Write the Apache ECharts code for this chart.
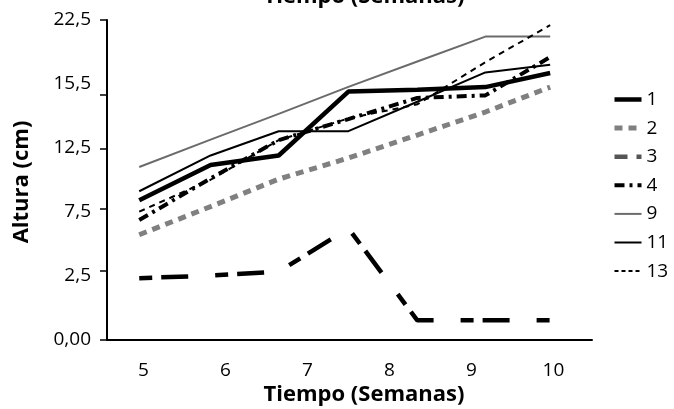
<!DOCTYPE html>
<html>
<head>
<meta charset="utf-8">
<script src="https://cdn.jsdelivr.net/npm/echarts@6/dist/echarts.min.js"></script>
<style>html,body{margin:0;padding:0;background:#fff}#c{width:674px;height:409px}</style>
</head>
<body>
<div id="c"></div>
<script>
// Data (x = position in weeks; y in chart units 0..25)
const weekX = [4.95, 5.82, 6.65, 7.5, 8.34, 9.17, 9.96];
const xTickValues = [5, 6, 7, 8, 9, 10];
const yTickLabels = ['0,00', '2,5', '7,5', '12,5', '15,5', '22,5'];
const yLabelValues = [0, 5, 10, 15, 20, 25];
const yTickValues = [0, 5.35, 10.2, 14.95, 19.15, 25];
const seriesNames = ['1', '2', '3', '4', '9', '11', '13'];
const s1 = [10.9, 13.65, 14.4, 19.4, 19.55, 19.75, 20.85];
const s2 = [8.2, 10.4, 12.55, 14.2, 16.0, 17.8, 19.75];
const s3 = [4.8, 5.0, 5.3, 8.7, 1.5, 1.5, 1.5];
const s4 = [9.35, 12.6, 15.6, 17.25, 18.9, 19.1, 22.1];
const s9 = [13.5, 15.64, 17.65, 19.77, 21.75, 23.7, 23.7];
const s11 = [11.6, 14.4, 16.3, 16.3, 18.6, 20.9, 21.5];
const s13 = [10.0, 12.5, 15.6, 17.3, 18.4, 21.7, 24.6];

const values = [s1, s2, s3, s4, s9, s11, s13];
const styles = [
  {color: '#000', width: 4.5, type: 'solid'},
  {color: '#808080', width: 5, type: [8, 6]},
  {color: '#000', width: 4.5, type: [13, 9, 27, 27]},
  {color: '#000', width: 4, type: [10, 5, 3, 5]},
  {color: '#6b6b6b', width: 2, type: 'solid'},
  {color: '#000', width: 2, type: 'solid'},
  {color: '#000', width: 2, type: [4, 3]}
];
const legendColors = ['#000', '#808080', '#555', '#000', '#6b6b6b', '#000', '#000'];
const FONT = '"Open Sans", "Liberation Sans", sans-serif';

const series = seriesNames.map((n, i) => ({
  name: n,
  type: 'line',
  symbol: 'none',
  animation: false,
  color: styles[i].color,
  lineStyle: {color: styles[i].color, width: styles[i].width, type: i === 6 ? [6, 5] : styles[i].type, cap: 'butt'},
  data: weekX.map((x, k) => [x, values[i][k]])
}));

const chart = echarts.init(document.getElementById('c'), null, {renderer: 'canvas'});
chart.setOption({
  animation: false,
  backgroundColor: '#fff',
  grid: {left: 107, right: 82, top: 20, bottom: 69.5, containLabel: false},
  xAxis: {
    type: 'value', min: 4.557, max: 10.47,
    axisLine: {show: true, lineStyle: {color: '#000', width: 2}},
    axisTick: {show: false},
    splitLine: {show: false},
    axisLabel: {customValues: xTickValues, margin: 22, color: '#000', fontSize: 19, fontFamily: FONT}
  },
  yAxis: {
    type: 'value', min: 0, max: 25,
    axisLine: {show: true, lineStyle: {color: '#000', width: 2}},
    axisTick: {show: true, customValues: yTickValues, length: 7, lineStyle: {color: '#000', width: 1.5}},
    splitLine: {show: false},
    axisLabel: {
      customValues: yLabelValues, margin: 16, color: '#000', fontSize: 19, fontFamily: FONT,
      formatter: v => yTickLabels[yLabelValues.indexOf(Math.round(v))]
    }
  },
  legend: {
    orient: 'vertical', left: 612, top: 90, padding: 0,
    itemWidth: 27, itemHeight: 14, itemGap: 9.6,
    itemStyle: {opacity: 0},
    textStyle: {fontSize: 19, fontFamily: FONT, color: '#000'},
    data: seriesNames.map((n, i) => ({
      name: n,
      lineStyle: {color: legendColors[i], width: styles[i].width, type: styles[i].type, cap: 'butt'}
    }))
  },
  graphic: [
    {type: 'text', x: 364, y: -3, style: {text: 'Tiempo (Semanas)', font: 'bold 22px ' + FONT, textAlign: 'center', textVerticalAlign: 'middle', align: 'center', verticalAlign: 'middle', fill: '#000'}},
    {type: 'text', x: 364, y: 395, style: {text: 'Tiempo (Semanas)', font: 'bold 22px ' + FONT, textAlign: 'center', textVerticalAlign: 'middle', align: 'center', verticalAlign: 'middle', fill: '#000'}},
    {type: 'text', x: 22, y: 182, rotation: Math.PI / 2, style: {text: 'Altura (cm)', font: 'bold 22px ' + FONT, textAlign: 'center', textVerticalAlign: 'middle', align: 'center', verticalAlign: 'middle', fill: '#000'}}
  ],
  series: series
});
</script>
</body>
</html>
